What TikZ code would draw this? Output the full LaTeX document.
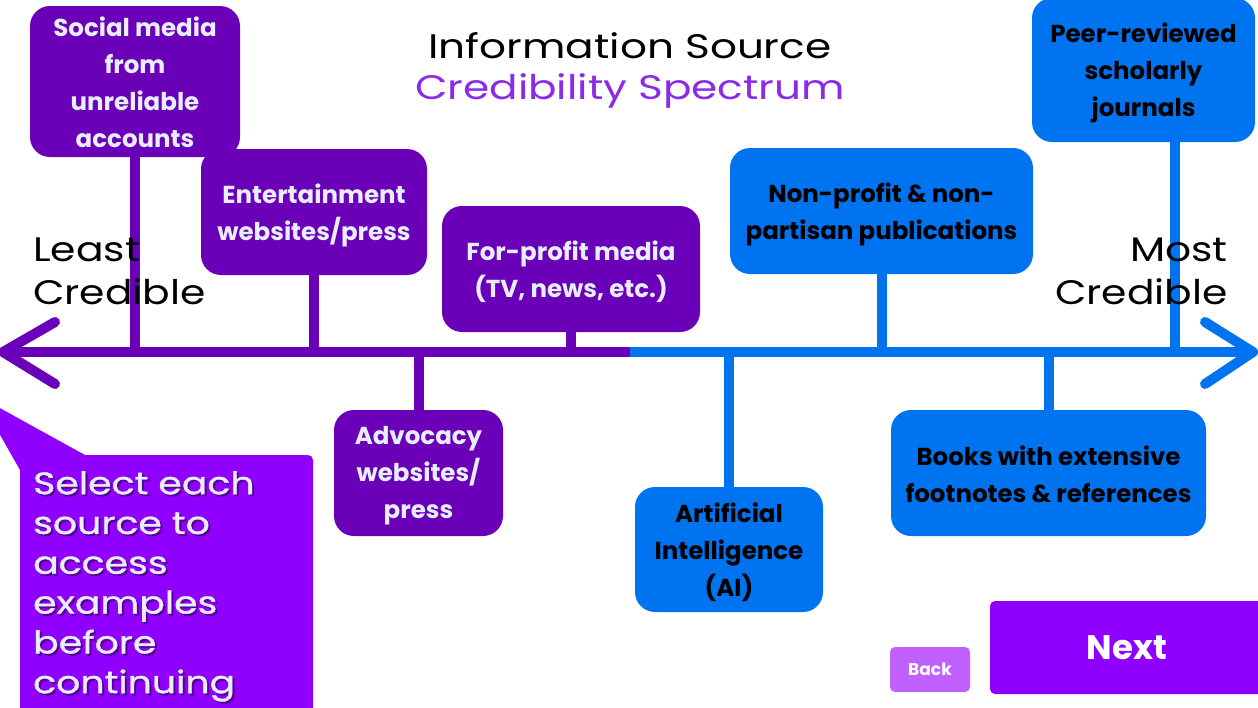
\documentclass[tikz,border=0pt]{standalone}
\usepackage{fontspec}
\setmainfont{Poppins}
\newfontfamily\widefont[FakeStretch=1.24]{Poppins}
\newfontfamily\endfont[FakeStretch=1.2]{Poppins}
\newfontfamily\widebold[FakeStretch=1.22,FakeBold=1.2]{Poppins}
\usetikzlibrary{calc,backgrounds}
\definecolor{dpurple}{HTML}{6A00B8}
\definecolor{cblue}{HTML}{0073F0}
\definecolor{vpurple}{HTML}{9000FF}
\definecolor{tpurple}{HTML}{8A2BE8}
\definecolor{lpurple}{HTML}{BF60FF}
\definecolor{ltext}{HTML}{E8EEFF}
\definecolor{shadowp}{HTML}{5A0099}
\newcommand\srcbox[8]{%
  \node[#2,minimum width=#3pt,minimum height=#4pt] (#1) at (#5,#6) {};
  \node[#2 text] (#1-t) at ([yshift=-#7pt]#1.center) {#8};}
\begin{document}
\begin{tikzpicture}[x=1pt,y=-1pt,
  pbox/.style={fill=dpurple,rounded corners=20pt,inner sep=0pt},
  bbox/.style={fill=cblue,rounded corners=20pt,inner sep=0pt},
  pbox text/.style={text=ltext,align=center,font=\bfseries\fontsize{24.5}{37}\selectfont,inner sep=0pt},
  bbox text/.style={text=black,align=center,font=\bfseries\fontsize{24.5}{37}\selectfont,inner sep=0pt},
  pstem/.style={draw=dpurple,line width=10pt},
  bstem/.style={draw=cblue,line width=10pt},
  endlab/.style={font=\endfont\fontsize{34}{43}\selectfont,inner sep=0pt}]
\path[use as bounding box] (0,0) rectangle (1258,707);
\clip (0,0) rectangle (1258,707);
% axis
\coordinate (axL) at (3,352);
\coordinate (axM) at (630,352);
\coordinate (axR) at (1253,352);
\draw[pstem] (axL) -- (axM);
\draw[bstem] (axM) -- (axR);
\draw[pstem,line cap=round,line join=round] (55,322) -- (axL) -- (55,384);
\draw[bstem,line cap=round,line join=round] (1205,322) -- (axR) -- (1205,384);
% boxes
\srcbox{s1}{pbox}{210}{151}{135}{81.5}{0.5}{Social media\\from\\unreliable\\accounts}
\srcbox{s2}{pbox}{226}{126}{314}{212}{3}{Entertainment\\websites/press}
\srcbox{s3}{pbox}{258}{126}{571}{269}{3}{For-profit media\\(TV, news, etc.)}
\srcbox{s4}{pbox}{169}{126}{418.5}{473}{3}{Advocacy\\websites/\\press}
\srcbox{s5}{bbox}{223}{144}{1143.5}{70}{3}{Peer-reviewed\\scholarly\\journals}
\srcbox{s6}{bbox}{303}{126}{881.5}{211}{3}{Non-profit \& non-\\partisan publications}
\srcbox{s7}{bbox}{188}{125}{729}{549.5}{3}{Artificial\\Intelligence\\(AI)}
\srcbox{s8}{bbox}{315}{126}{1048.5}{473}{1.5}{Books with extensive\\footnotes \& references}
% stems
\begin{scope}[on background layer]
\draw[pstem] (s1.south) -- (s1.south |- axM);
\draw[pstem] (s2.south) -- (s2.south |- axM);
\draw[pstem] (s3.south) -- (s3.south |- axM);
\draw[pstem] (s4.north) -- (s4.north |- axM);
\draw[bstem] ([xshift=31pt]s5.south) -- ([xshift=31pt]s5.south |- axM);
\draw[bstem] (s6.south) -- (s6.south |- axM);
\draw[bstem] (s7.north) -- (s7.north |- axM);
\draw[bstem] (s8.north) -- (s8.north |- axM);
\end{scope}
% title
\node[font=\widefont\fontsize{34}{43}\selectfont,inner sep=0pt] (t1) at (630,46) {Information Source};
\node[font=\widefont\fontsize{34}{43}\selectfont,text=tpurple,inner sep=0pt] (t2) at (630,91) {Credibility Spectrum};
% end labels
\node[endlab,anchor=west,align=left] (least) at (33,271) {Least\\Credible};
\node[endlab,anchor=east,align=right] (most) at (1228,271) {Most\\Credible};
% callout
\fill[vpurple] (-22,396) -- (85,455) -- (20,470) -- cycle;
\fill[vpurple,rounded corners=5pt] (20,455) rectangle (313,720);
\node[anchor=north west,align=left,text=shadowp,font=\widebold\fontsize{31}{39.8}\selectfont,inner sep=0pt] (callsh) at (35,473) {Select each\\source to\\access\\examples\\before\\continuing};
\node[anchor=north west,align=left,text=ltext,font=\widebold\fontsize{31}{39.8}\selectfont,inner sep=0pt] (call) at (33,471) {Select each\\source to\\access\\examples\\before\\continuing};
% buttons
\node[fill=lpurple,rounded corners=5pt,minimum width=80pt,minimum height=45pt,text=white,font=\bfseries\fontsize{17}{20}\selectfont,inner sep=0pt] (back) at (930,669.5) {\raisebox{-2pt}{Back}};
\node[fill=vpurple,rounded corners=5pt,minimum width=280pt,minimum height=93pt,text=white,font=\bfseries\fontsize{34}{40}\selectfont,inner sep=0pt] (next) at (1130,647.5) {\hspace*{-6pt}Next};
\end{tikzpicture}
\end{document}
